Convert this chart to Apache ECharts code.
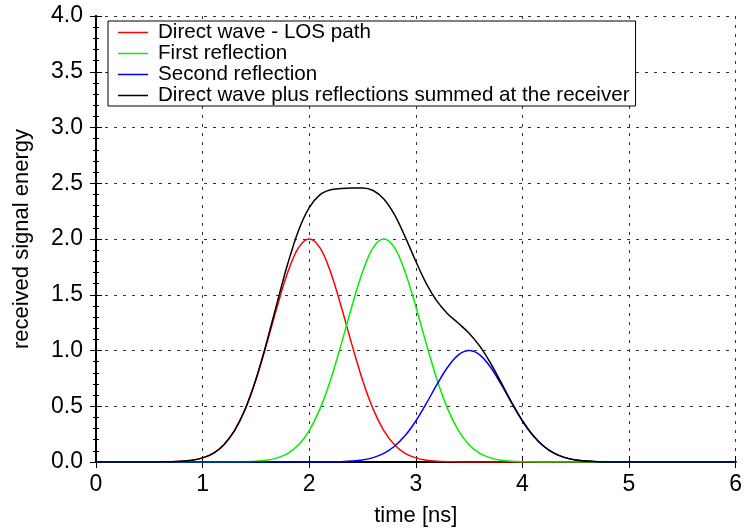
<!DOCTYPE html>
<html>
<head>
<meta charset="utf-8">
<script src="https://cdn.jsdelivr.net/npm/echarts@6/dist/echarts.min.js"></script>
<style>
html,body{margin:0;padding:0;background:#fff;}
#chart{width:745px;height:532px;}
</style>
</head>
<body>
<div id="chart"></div>
<script>
var seriesNames = ['Direct wave - LOS path','First reflection','Second reflection','Direct wave plus reflections summed at the receiver'];
var seriesColors = ['#ff0000','#00f000','#0000ff','#000000'];
var xs = [0.0,0.1,0.2,0.3,0.4,0.5,0.6,0.7,0.8,0.9,1.0,1.1,1.2,1.3,1.4,1.5,1.6,1.7,1.8,1.9,2.0,2.1,2.2,2.3,2.4,2.5,2.6,2.7,2.8,2.9,3.0,3.1,3.2,3.3,3.4,3.5,3.6,3.7,3.8,3.9,4.0,4.1,4.2,4.3,4.4,4.5,4.6,4.7,4.8,4.9,5.0,5.1,5.2,5.3,5.4,5.5,5.6,5.7,5.8,5.9,6.0];
var directWave = [0,0,0,0,0,0.0002,0.001,0.002,0.006,0.016,0.037,0.078,0.155,0.282,0.474,0.736,1.055,1.395,1.704,1.922,2.0,1.922,1.704,1.395,1.055,0.736,0.474,0.282,0.155,0.078,0.037,0.016,0.006,0.002,0.001,0.0002,0,0,0,0,0,0,0,0,0,0,0,0,0,0,0,0,0,0,0,0,0,0,0,0,0];
var firstReflection = [0,0,0,0,0,0,0,0,0,0,0,0,0.0002,0.001,0.002,0.006,0.016,0.037,0.078,0.155,0.282,0.474,0.736,1.055,1.395,1.704,1.922,2.0,1.922,1.704,1.395,1.055,0.736,0.474,0.282,0.155,0.078,0.037,0.016,0.006,0.002,0.001,0.0002,0,0,0,0,0,0,0,0,0,0,0,0,0,0,0,0,0,0];
var secondReflection = [0,0,0,0,0,0,0,0,0,0,0,0,0,0,0,0,0,0,0,0,0.0001,0.0004,0.001,0.003,0.008,0.018,0.039,0.077,0.141,0.237,0.368,0.527,0.698,0.852,0.961,1.0,0.961,0.852,0.698,0.527,0.368,0.237,0.141,0.077,0.039,0.018,0.008,0.003,0.001,0.0004,0.0001,0,0,0,0,0,0,0,0,0,0];
var summed = [0,0,0,0,0,0.0002,0.001,0.002,0.006,0.016,0.037,0.078,0.155,0.283,0.476,0.742,1.071,1.432,1.782,2.077,2.282,2.396,2.441,2.453,2.458,2.458,2.435,2.359,2.218,2.019,1.800,1.598,1.440,1.328,1.244,1.155,1.039,0.889,0.714,0.533,0.370,0.238,0.141,0.077,0.039,0.018,0.008,0.003,0.001,0.0004,0.0001,0,0,0,0,0,0,0,0,0,0];
var xTicks = ['0','1','2','3','4','5','6'];
var yTicks = ['0.0','0.5','1.0','1.5','2.0','2.5','3.0','3.5','4.0'];

var allValues = [directWave, firstReflection, secondReflection, summed];
function pairs(vals){ return xs.map(function(x,i){ return [x, vals[i]]; }); }

var FONT = '"Liberation Sans", Arial, sans-serif';
var chart = echarts.init(document.getElementById('chart'), null, {renderer:'canvas'});
var axisLineStyle = {show:true, lineStyle:{color:'#000', width:2}};
var option = {
  animation:false,
  backgroundColor:'#fff',
  textStyle:{fontFamily:FONT},
  grid:{left:96, right:5, top:16, bottom:69, containLabel:false},
  legend:{
    show:true, orient:'vertical', left:108, top:21,
    data:seriesNames,
    icon:'rect', itemWidth:30, itemHeight:1.5, itemGap:0,
    backgroundColor:'#fff', borderColor:'#000', borderWidth:1, borderRadius:0,
    padding:[1,6,0,10],
    textStyle:{fontFamily:FONT, fontSize:20.6, lineHeight:19.5, color:'#000', padding:[0,0,0,5]}
  },
  xAxis:[{
    type:'value', min:0, max:6, interval:1, position:'bottom',
    name:'time [ns]', nameLocation:'middle', nameGap:43,
    nameTextStyle:{fontFamily:FONT, fontSize:22, color:'#000'},
    axisLine:axisLineStyle,
    axisTick:{show:true, inside:true, length:6, lineStyle:{color:'#000'}},
    axisLabel:{fontFamily:FONT, fontSize:23, color:'#000', margin:11,
      formatter:function(v){ return xTicks[Math.round(v)]; }},
    splitLine:{show:true, lineStyle:{color:'#333', type:[3,6], width:1}}
  },{
    type:'value', min:0, max:6, interval:1, position:'top',
    axisLine:axisLineStyle,
    axisTick:{show:true, inside:true, length:6, lineStyle:{color:'#000'}},
    axisLabel:{show:false}, splitLine:{show:false}
  }],
  yAxis:[{
    type:'value', min:0, max:4, interval:0.5, position:'left',
    name:'received signal energy', nameLocation:'middle', nameGap:63, nameRotate:90,
    nameTextStyle:{fontFamily:FONT, fontSize:22, color:'#000'},
    axisLine:axisLineStyle,
    axisTick:{show:true, inside:true, length:6, lineStyle:{color:'#000'}},
    minorTick:{show:true, splitNumber:5, length:3, lineStyle:{color:'#000'}},
    axisLabel:{fontFamily:FONT, fontSize:23, color:'#000', margin:13,
      formatter:function(v){ return yTicks[Math.round(v*2)]; }},
    splitLine:{show:true, lineStyle:{color:'#333', type:[3,6], width:1}}
  },{
    type:'value', min:0, max:4, interval:0.5, position:'right',
    axisLine:axisLineStyle,
    axisTick:{show:true, inside:true, length:6, lineStyle:{color:'#000'}},
    minorTick:{show:true, splitNumber:5, length:3, lineStyle:{color:'#000'}},
    axisLabel:{show:false}, splitLine:{show:false}
  }],
  series: seriesNames.map(function(name, k){
    return {
      name:name, type:'line', xAxisIndex:0, yAxisIndex:0,
      data:pairs(allValues[k]),
      showSymbol:false, symbol:'none',
      smooth:0.35,
      lineStyle:{color:seriesColors[k], width:1.5},
      itemStyle:{color:seriesColors[k]},
      z:2+k
    };
  })
};
chart.setOption(option);
</script>
</body>
</html>
